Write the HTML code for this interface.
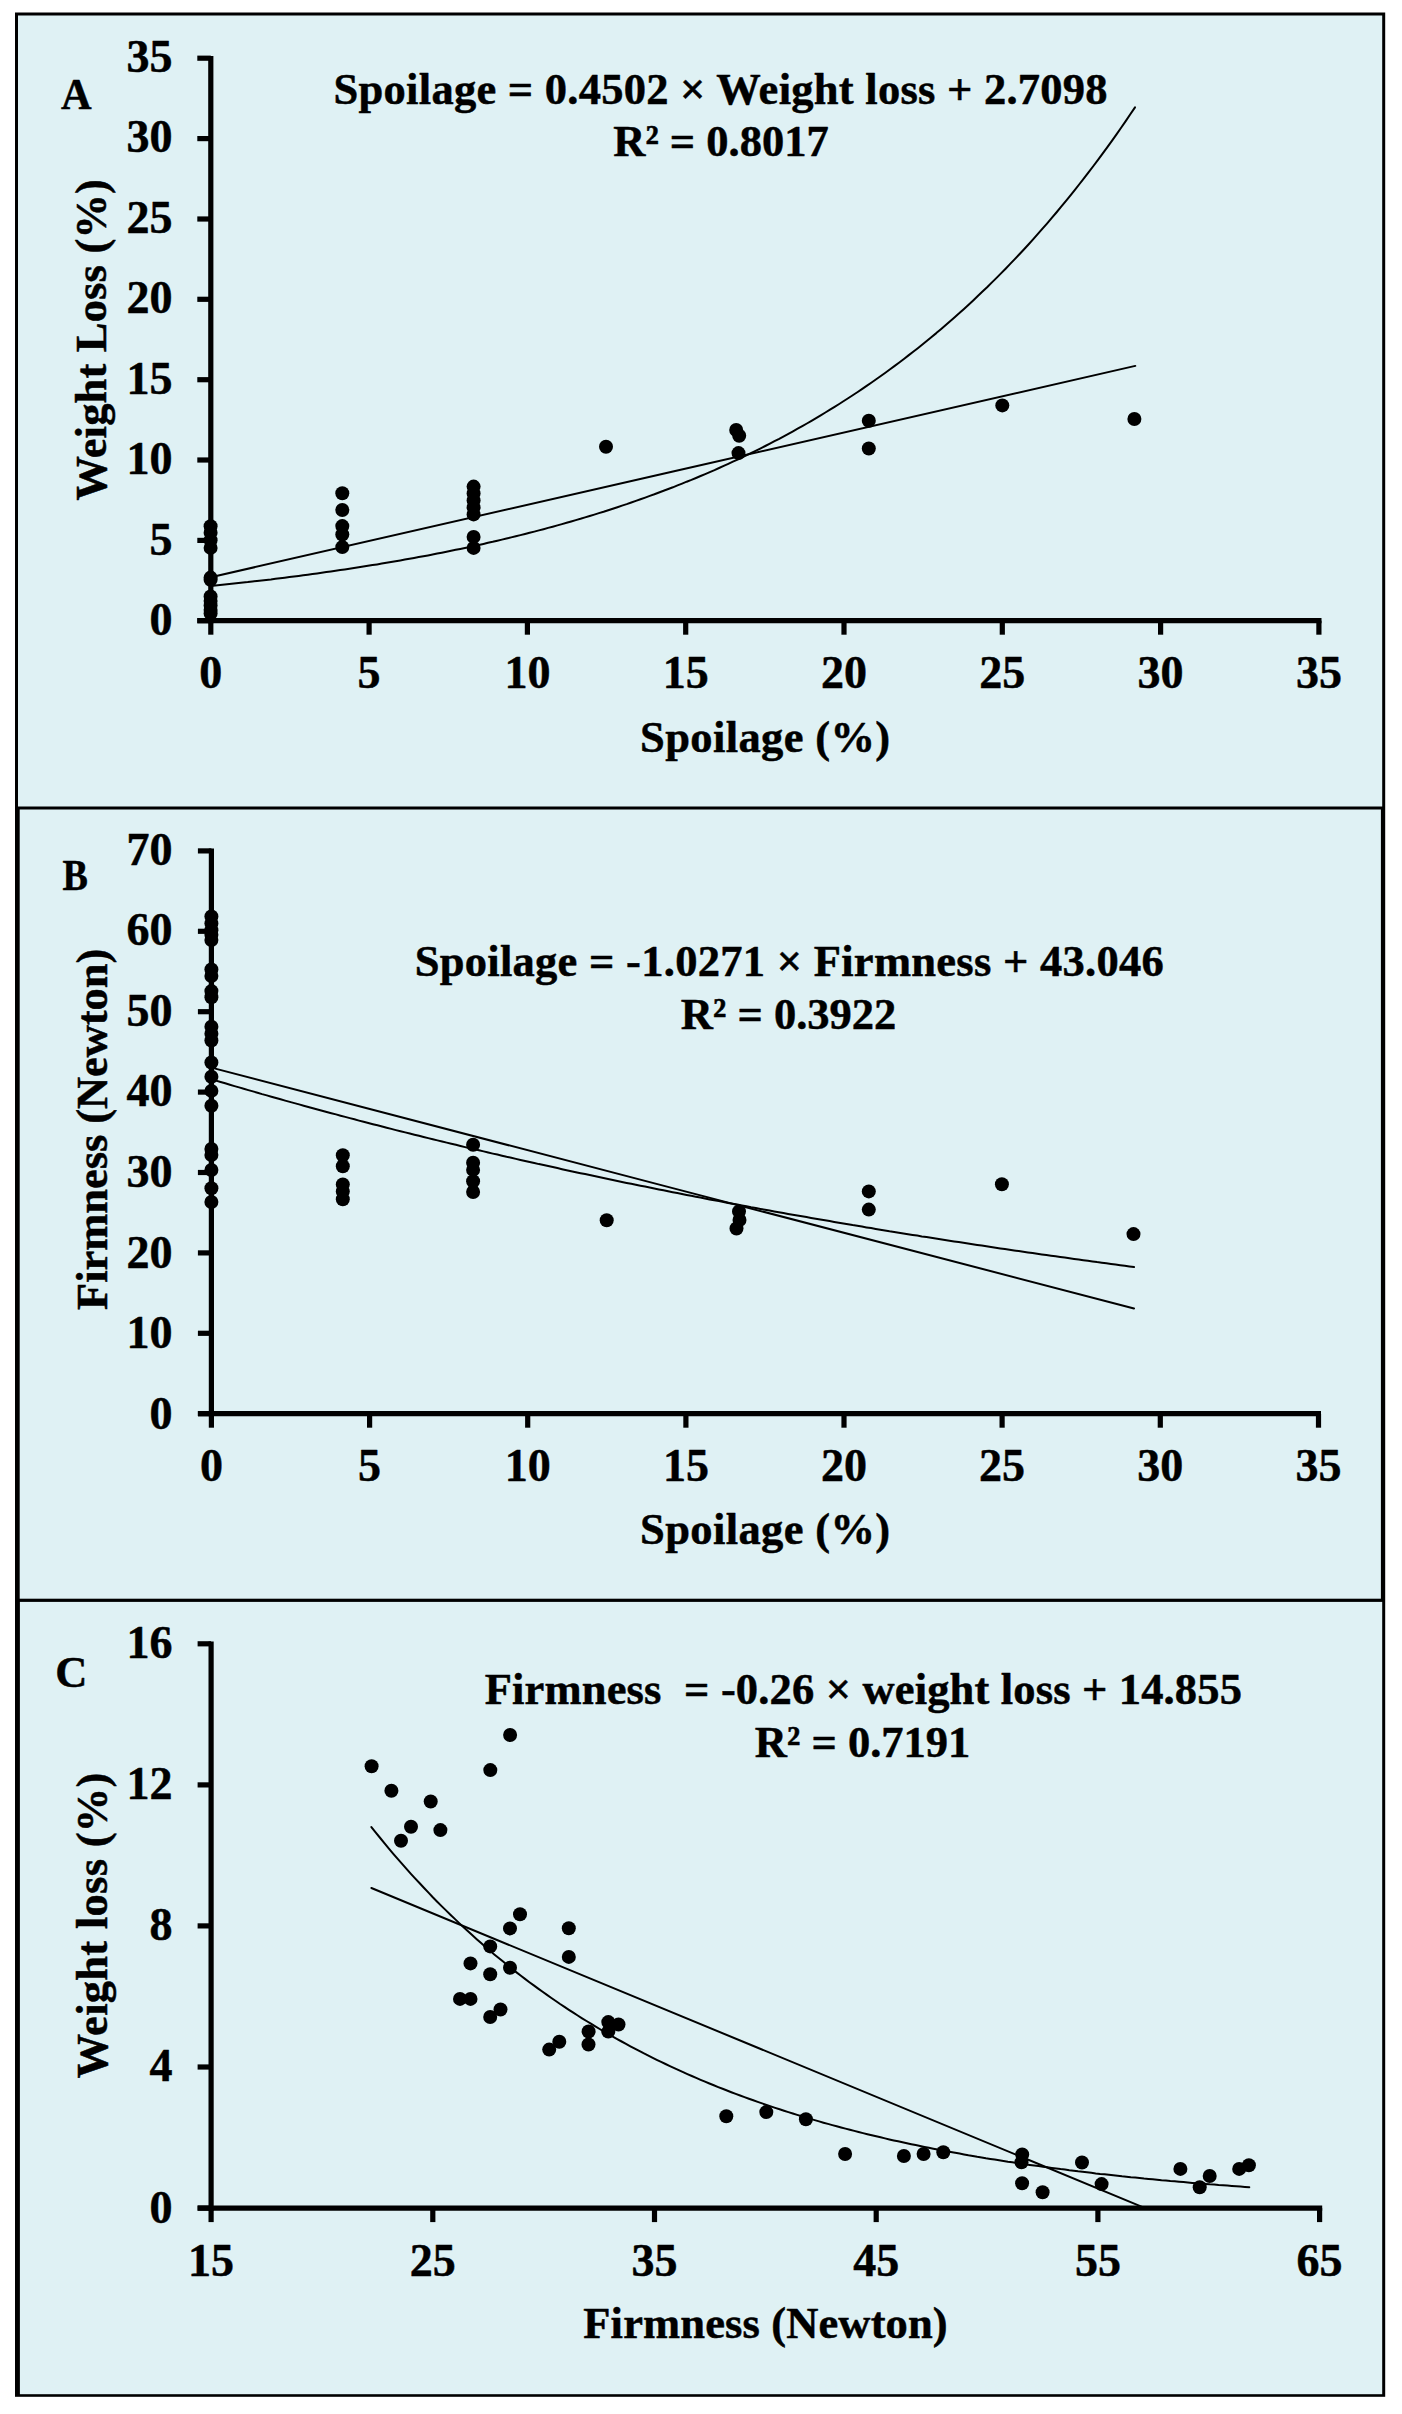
<!DOCTYPE html><html><head><meta charset="utf-8"><style>html,body{margin:0;padding:0;background:#fff;width:1402px;height:2414px;overflow:hidden}svg{display:block}text{font-family:"Liberation Serif",serif;font-weight:bold;fill:#000;stroke:#000;stroke-width:0.5px;stroke-linejoin:round}</style></head><body>
<svg width="1402" height="2414" viewBox="0 0 1402 2414">
<rect x="15" y="12.5" width="1370.2" height="2384.3" fill="#000"/>
<rect x="18" y="15.5" width="1364.2" height="791" fill="#dff1f4"/>
<rect x="19.7" y="809.5" width="1361.2" height="789.2" fill="#dff1f4"/>
<rect x="19.9" y="1601.9" width="1362.3" height="792.3" fill="#dff1f4"/>
<line x1="210.8" y1="55.9" x2="210.8" y2="623.3" stroke="#000" stroke-width="5.2"/>
<line x1="197.3" y1="620.7" x2="1321.5" y2="620.7" stroke="#000" stroke-width="5.2"/>
<line x1="197.3" y1="620.7" x2="210.8" y2="620.7" stroke="#000" stroke-width="5.2"/>
<line x1="197.3" y1="540.4" x2="210.8" y2="540.4" stroke="#000" stroke-width="5.2"/>
<line x1="197.3" y1="460" x2="210.8" y2="460" stroke="#000" stroke-width="5.2"/>
<line x1="197.3" y1="379.7" x2="210.8" y2="379.7" stroke="#000" stroke-width="5.2"/>
<line x1="197.3" y1="299.3" x2="210.8" y2="299.3" stroke="#000" stroke-width="5.2"/>
<line x1="197.3" y1="219" x2="210.8" y2="219" stroke="#000" stroke-width="5.2"/>
<line x1="197.3" y1="138.6" x2="210.8" y2="138.6" stroke="#000" stroke-width="5.2"/>
<line x1="197.3" y1="58.2" x2="210.8" y2="58.2" stroke="#000" stroke-width="5.2"/>
<line x1="210.8" y1="620.7" x2="210.8" y2="634.7" stroke="#000" stroke-width="5.2"/>
<line x1="369.1" y1="620.7" x2="369.1" y2="634.7" stroke="#000" stroke-width="5.2"/>
<line x1="527.4" y1="620.7" x2="527.4" y2="634.7" stroke="#000" stroke-width="5.2"/>
<line x1="685.7" y1="620.7" x2="685.7" y2="634.7" stroke="#000" stroke-width="5.2"/>
<line x1="844" y1="620.7" x2="844" y2="634.7" stroke="#000" stroke-width="5.2"/>
<line x1="1002.3" y1="620.7" x2="1002.3" y2="634.7" stroke="#000" stroke-width="5.2"/>
<line x1="1160.6" y1="620.7" x2="1160.6" y2="634.7" stroke="#000" stroke-width="5.2"/>
<line x1="1318.9" y1="620.7" x2="1318.9" y2="634.7" stroke="#000" stroke-width="5.2"/>
<text x="172.6" y="635.3" text-anchor="end" font-size="46" >0</text>
<text x="210.8" y="687.6" text-anchor="middle" font-size="46" >0</text>
<text x="172.6" y="554.8" text-anchor="end" font-size="46" >5</text>
<text x="369.1" y="687.6" text-anchor="middle" font-size="46" >5</text>
<text x="172.6" y="474.3" text-anchor="end" font-size="46" >10</text>
<text x="527.4" y="687.6" text-anchor="middle" font-size="46" >10</text>
<text x="172.6" y="393.9" text-anchor="end" font-size="46" >15</text>
<text x="685.7" y="687.6" text-anchor="middle" font-size="46" >15</text>
<text x="172.6" y="313.4" text-anchor="end" font-size="46" >20</text>
<text x="844" y="687.6" text-anchor="middle" font-size="46" >20</text>
<text x="172.6" y="232.9" text-anchor="end" font-size="46" >25</text>
<text x="1002.3" y="687.6" text-anchor="middle" font-size="46" >25</text>
<text x="172.6" y="152.4" text-anchor="end" font-size="46" >30</text>
<text x="1160.6" y="687.6" text-anchor="middle" font-size="46" >30</text>
<text x="172.6" y="72" text-anchor="end" font-size="46" >35</text>
<text x="1318.9" y="687.6" text-anchor="middle" font-size="46" >35</text>
<text x="61" y="109.2" text-anchor="start" font-size="44.5" textLength="30.6" lengthAdjust="spacingAndGlyphs" >A</text>
<text x="720.6" y="103.9" text-anchor="middle" font-size="44.5" textLength="774" lengthAdjust="spacing" >Spoilage = 0.4502 × Weight loss + 2.7098</text>
<text x="721" y="156.2" text-anchor="middle" font-size="44.5" >R² = 0.8017</text>
<text x="765.1" y="751.6" text-anchor="middle" font-size="44.5" textLength="250.2" lengthAdjust="spacing" >Spoilage (%)</text>
<text transform="translate(105.6,339.8) rotate(-90)" x="0" y="0" text-anchor="middle" font-size="44.5" textLength="321.5">Weight Loss (%)</text>
<polyline points="210.8,577.2 673.0,471.5 1135.3,365.9" fill="none" stroke="#000" stroke-width="2.0" stroke-linejoin="round" stroke-linecap="round"/>
<polyline points="210.8,586.0 215.4,585.5 220.0,585.1 224.7,584.6 229.3,584.1 233.9,583.6 238.5,583.1 243.1,582.6 247.8,582.1 252.4,581.5 257.0,581.0 261.6,580.5 266.2,579.9 270.9,579.4 275.5,578.8 280.1,578.2 284.7,577.7 289.4,577.1 294.0,576.5 298.6,575.9 303.2,575.3 307.8,574.7 312.5,574.0 317.1,573.4 321.7,572.8 326.3,572.1 330.9,571.5 335.6,570.8 340.2,570.1 344.8,569.4 349.4,568.7 354.0,568.0 358.7,567.3 363.3,566.6 367.9,565.8 372.5,565.1 377.1,564.4 381.8,563.6 386.4,562.8 391.0,562.0 395.6,561.2 400.3,560.4 404.9,559.6 409.5,558.8 414.1,557.9 418.7,557.1 423.4,556.2 428.0,555.4 432.6,554.5 437.2,553.6 441.8,552.7 446.5,551.7 451.1,550.8 455.7,549.8 460.3,548.9 464.9,547.9 469.6,546.9 474.2,545.9 478.8,544.9 483.4,543.9 488.0,542.8 492.7,541.8 497.3,540.7 501.9,539.6 506.5,538.5 511.2,537.4 515.8,536.3 520.4,535.1 525.0,534.0 529.6,532.8 534.3,531.6 538.9,530.4 543.5,529.2 548.1,527.9 552.7,526.7 557.4,525.4 562.0,524.1 566.6,522.8 571.2,521.5 575.8,520.1 580.5,518.8 585.1,517.4 589.7,516.0 594.3,514.6 598.9,513.1 603.6,511.7 608.2,510.2 612.8,508.7 617.4,507.2 622.0,505.6 626.7,504.1 631.3,502.5 635.9,500.9 640.5,499.3 645.2,497.6 649.8,495.9 654.4,494.3 659.0,492.5 663.6,490.8 668.3,489.0 672.9,487.3 677.5,485.4 682.1,483.6 686.7,481.7 691.4,479.9 696.0,478.0 700.6,476.0 705.2,474.1 709.8,472.1 714.5,470.1 719.1,468.0 723.7,465.9 728.3,463.8 732.9,461.7 737.6,459.6 742.2,457.4 746.8,455.2 751.4,452.9 756.1,450.6 760.7,448.3 765.3,446.0 769.9,443.6 774.5,441.2 779.2,438.8 783.8,436.3 788.4,433.8 793.0,431.3 797.6,428.7 802.3,426.1 806.9,423.5 811.5,420.8 816.1,418.1 820.7,415.3 825.4,412.5 830.0,409.7 834.6,406.9 839.2,404.0 843.8,401.0 848.5,398.0 853.1,395.0 857.7,392.0 862.3,388.9 867.0,385.7 871.6,382.5 876.2,379.3 880.8,376.0 885.4,372.7 890.1,369.3 894.7,365.9 899.3,362.5 903.9,359.0 908.5,355.4 913.2,351.8 917.8,348.2 922.4,344.5 927.0,340.7 931.6,336.9 936.3,333.1 940.9,329.2 945.5,325.2 950.1,321.2 954.7,317.2 959.4,313.1 964.0,308.9 968.6,304.7 973.2,300.4 977.8,296.0 982.5,291.6 987.1,287.2 991.7,282.6 996.3,278.1 1001.0,273.4 1005.6,268.7 1010.2,263.9 1014.8,259.1 1019.4,254.2 1024.1,249.2 1028.7,244.2 1033.3,239.1 1037.9,233.9 1042.5,228.6 1047.2,223.3 1051.8,217.9 1056.4,212.5 1061.0,206.9 1065.6,201.3 1070.3,195.6 1074.9,189.9 1079.5,184.0 1084.1,178.1 1088.7,172.1 1093.4,166.0 1098.0,159.9 1102.6,153.6 1107.2,147.3 1111.9,140.8 1116.5,134.3 1121.1,127.7 1125.7,121.1 1130.3,114.3 1135.0,107.4" fill="none" stroke="#000" stroke-width="2.0" stroke-linejoin="round" stroke-linecap="round"/>
<circle cx="210.6" cy="526.3" r="7.0"/>
<circle cx="210.6" cy="532.8" r="7.0"/>
<circle cx="210.6" cy="540.2" r="7.0"/>
<circle cx="210.6" cy="547.9" r="7.0"/>
<circle cx="210.6" cy="577.6" r="7.0"/>
<circle cx="210.6" cy="579.7" r="7.0"/>
<circle cx="210.6" cy="596.5" r="7.0"/>
<circle cx="210.6" cy="601" r="7.0"/>
<circle cx="210.6" cy="605.5" r="7.0"/>
<circle cx="210.6" cy="610" r="7.0"/>
<circle cx="210.6" cy="613.5" r="7.0"/>
<circle cx="342.3" cy="493.3" r="7.0"/>
<circle cx="342.3" cy="510" r="7.0"/>
<circle cx="342.3" cy="526.1" r="7.0"/>
<circle cx="342.3" cy="534.5" r="7.0"/>
<circle cx="342.3" cy="547.1" r="7.0"/>
<circle cx="473.6" cy="486.6" r="7.0"/>
<circle cx="473.6" cy="493.5" r="7.0"/>
<circle cx="473.6" cy="500.5" r="7.0"/>
<circle cx="473.6" cy="507.5" r="7.0"/>
<circle cx="473.6" cy="514.4" r="7.0"/>
<circle cx="473.6" cy="536.9" r="7.0"/>
<circle cx="473.6" cy="547.9" r="7.0"/>
<circle cx="606" cy="446.7" r="7.0"/>
<circle cx="736.2" cy="430" r="7.0"/>
<circle cx="739.2" cy="435.7" r="7.0"/>
<circle cx="738.5" cy="453.1" r="7.0"/>
<circle cx="868.8" cy="420.7" r="7.0"/>
<circle cx="868.8" cy="448.5" r="7.0"/>
<circle cx="1002.3" cy="405.4" r="7.0"/>
<circle cx="1134.4" cy="419" r="7.0"/>
<line x1="211.4" y1="848.5" x2="211.4" y2="1416.3" stroke="#000" stroke-width="5.2"/>
<line x1="197.9" y1="1413.7" x2="1321" y2="1413.7" stroke="#000" stroke-width="5.2"/>
<line x1="197.9" y1="1413.7" x2="211.4" y2="1413.7" stroke="#000" stroke-width="5.2"/>
<line x1="197.9" y1="1333.3" x2="211.4" y2="1333.3" stroke="#000" stroke-width="5.2"/>
<line x1="197.9" y1="1252.9" x2="211.4" y2="1252.9" stroke="#000" stroke-width="5.2"/>
<line x1="197.9" y1="1172.5" x2="211.4" y2="1172.5" stroke="#000" stroke-width="5.2"/>
<line x1="197.9" y1="1092.1" x2="211.4" y2="1092.1" stroke="#000" stroke-width="5.2"/>
<line x1="197.9" y1="1011.7" x2="211.4" y2="1011.7" stroke="#000" stroke-width="5.2"/>
<line x1="197.9" y1="931.3" x2="211.4" y2="931.3" stroke="#000" stroke-width="5.2"/>
<line x1="197.9" y1="850.9" x2="211.4" y2="850.9" stroke="#000" stroke-width="5.2"/>
<line x1="211.4" y1="1413.7" x2="211.4" y2="1427.7" stroke="#000" stroke-width="5.2"/>
<line x1="369.6" y1="1413.7" x2="369.6" y2="1427.7" stroke="#000" stroke-width="5.2"/>
<line x1="527.7" y1="1413.7" x2="527.7" y2="1427.7" stroke="#000" stroke-width="5.2"/>
<line x1="685.9" y1="1413.7" x2="685.9" y2="1427.7" stroke="#000" stroke-width="5.2"/>
<line x1="844" y1="1413.7" x2="844" y2="1427.7" stroke="#000" stroke-width="5.2"/>
<line x1="1002.1" y1="1413.7" x2="1002.1" y2="1427.7" stroke="#000" stroke-width="5.2"/>
<line x1="1160.3" y1="1413.7" x2="1160.3" y2="1427.7" stroke="#000" stroke-width="5.2"/>
<line x1="1318.5" y1="1413.7" x2="1318.5" y2="1427.7" stroke="#000" stroke-width="5.2"/>
<text x="172.6" y="1428.6" text-anchor="end" font-size="46" >0</text>
<text x="172.6" y="1348" text-anchor="end" font-size="46" >10</text>
<text x="172.6" y="1267.5" text-anchor="end" font-size="46" >20</text>
<text x="172.6" y="1186.9" text-anchor="end" font-size="46" >30</text>
<text x="172.6" y="1106.3" text-anchor="end" font-size="46" >40</text>
<text x="172.6" y="1025.7" text-anchor="end" font-size="46" >50</text>
<text x="172.6" y="945.2" text-anchor="end" font-size="46" >60</text>
<text x="172.6" y="864.6" text-anchor="end" font-size="46" >70</text>
<text x="211.4" y="1481.2" text-anchor="middle" font-size="46" >0</text>
<text x="369.6" y="1481.2" text-anchor="middle" font-size="46" >5</text>
<text x="527.7" y="1481.2" text-anchor="middle" font-size="46" >10</text>
<text x="685.9" y="1481.2" text-anchor="middle" font-size="46" >15</text>
<text x="844" y="1481.2" text-anchor="middle" font-size="46" >20</text>
<text x="1002.1" y="1481.2" text-anchor="middle" font-size="46" >25</text>
<text x="1160.3" y="1481.2" text-anchor="middle" font-size="46" >30</text>
<text x="1318.5" y="1481.2" text-anchor="middle" font-size="46" >35</text>
<text x="62.4" y="889.6" text-anchor="start" font-size="44.5" textLength="25.4" lengthAdjust="spacingAndGlyphs" >B</text>
<text x="789.2" y="976.3" text-anchor="middle" font-size="44.5" textLength="749.1" lengthAdjust="spacing" >Spoilage = -1.0271 × Firmness + 43.046</text>
<text x="788.6" y="1028.6" text-anchor="middle" font-size="44.5" >R² = 0.3922</text>
<text x="765.1" y="1543.6" text-anchor="middle" font-size="44.5" textLength="250.2" lengthAdjust="spacing" >Spoilage (%)</text>
<text transform="translate(107.2,1129.3) rotate(-90)" x="0" y="0" text-anchor="middle" font-size="44.5" textLength="361.2">Firmness (Newton)</text>
<polyline points="211.4,1067.6 672.7,1188.1 1134.0,1308.5" fill="none" stroke="#000" stroke-width="2.0" stroke-linejoin="round" stroke-linecap="round"/>
<polyline points="211.4,1079.2 216.0,1080.6 220.6,1082.0 225.2,1083.3 229.9,1084.7 234.5,1086.1 239.1,1087.4 243.7,1088.7 248.3,1090.1 252.9,1091.4 257.5,1092.7 262.1,1094.1 266.8,1095.4 271.4,1096.7 276.0,1098.0 280.6,1099.3 285.2,1100.6 289.8,1101.9 294.4,1103.1 299.1,1104.4 303.7,1105.7 308.3,1107.0 312.9,1108.2 317.5,1109.5 322.1,1110.7 326.7,1112.0 331.3,1113.2 336.0,1114.4 340.6,1115.7 345.2,1116.9 349.8,1118.1 354.4,1119.3 359.0,1120.6 363.6,1121.8 368.3,1123.0 372.9,1124.2 377.5,1125.3 382.1,1126.5 386.7,1127.7 391.3,1128.9 395.9,1130.1 400.5,1131.2 405.2,1132.4 409.8,1133.5 414.4,1134.7 419.0,1135.8 423.6,1137.0 428.2,1138.1 432.8,1139.3 437.4,1140.4 442.1,1141.5 446.7,1142.6 451.3,1143.7 455.9,1144.8 460.5,1146.0 465.1,1147.1 469.7,1148.2 474.4,1149.2 479.0,1150.3 483.6,1151.4 488.2,1152.5 492.8,1153.6 497.4,1154.6 502.0,1155.7 506.6,1156.8 511.3,1157.8 515.9,1158.9 520.5,1159.9 525.1,1161.0 529.7,1162.0 534.3,1163.0 538.9,1164.1 543.6,1165.1 548.2,1166.1 552.8,1167.1 557.4,1168.1 562.0,1169.2 566.6,1170.2 571.2,1171.2 575.8,1172.2 580.5,1173.2 585.1,1174.1 589.7,1175.1 594.3,1176.1 598.9,1177.1 603.5,1178.1 608.1,1179.0 612.8,1180.0 617.4,1181.0 622.0,1181.9 626.6,1182.9 631.2,1183.8 635.8,1184.8 640.4,1185.7 645.0,1186.6 649.7,1187.6 654.3,1188.5 658.9,1189.4 663.5,1190.3 668.1,1191.3 672.7,1192.2 677.3,1193.1 682.0,1194.0 686.6,1194.9 691.2,1195.8 695.8,1196.7 700.4,1197.6 705.0,1198.5 709.6,1199.4 714.2,1200.2 718.9,1201.1 723.5,1202.0 728.1,1202.9 732.7,1203.7 737.3,1204.6 741.9,1205.5 746.5,1206.3 751.1,1207.2 755.8,1208.0 760.4,1208.9 765.0,1209.7 769.6,1210.5 774.2,1211.4 778.8,1212.2 783.4,1213.0 788.1,1213.9 792.7,1214.7 797.3,1215.5 801.9,1216.3 806.5,1217.1 811.1,1217.9 815.7,1218.7 820.3,1219.5 825.0,1220.3 829.6,1221.1 834.2,1221.9 838.8,1222.7 843.4,1223.5 848.0,1224.3 852.6,1225.1 857.3,1225.8 861.9,1226.6 866.5,1227.4 871.1,1228.1 875.7,1228.9 880.3,1229.7 884.9,1230.4 889.5,1231.2 894.2,1231.9 898.8,1232.7 903.4,1233.4 908.0,1234.2 912.6,1234.9 917.2,1235.6 921.8,1236.4 926.5,1237.1 931.1,1237.8 935.7,1238.5 940.3,1239.3 944.9,1240.0 949.5,1240.7 954.1,1241.4 958.7,1242.1 963.4,1242.8 968.0,1243.5 972.6,1244.2 977.2,1244.9 981.8,1245.6 986.4,1246.3 991.0,1247.0 995.7,1247.7 1000.3,1248.4 1004.9,1249.0 1009.5,1249.7 1014.1,1250.4 1018.7,1251.1 1023.3,1251.7 1027.9,1252.4 1032.6,1253.1 1037.2,1253.7 1041.8,1254.4 1046.4,1255.0 1051.0,1255.7 1055.6,1256.3 1060.2,1257.0 1064.8,1257.6 1069.5,1258.3 1074.1,1258.9 1078.7,1259.6 1083.3,1260.2 1087.9,1260.8 1092.5,1261.4 1097.1,1262.1 1101.8,1262.7 1106.4,1263.3 1111.0,1263.9 1115.6,1264.5 1120.2,1265.2 1124.8,1265.8 1129.4,1266.4 1134.0,1267.0" fill="none" stroke="#000" stroke-width="2.0" stroke-linejoin="round" stroke-linecap="round"/>
<circle cx="211.4" cy="916.5" r="7.0"/>
<circle cx="211.4" cy="923.4" r="7.0"/>
<circle cx="211.4" cy="930.2" r="7.0"/>
<circle cx="211.4" cy="934.7" r="7.0"/>
<circle cx="211.4" cy="940" r="7.0"/>
<circle cx="211.4" cy="969.5" r="7.0"/>
<circle cx="211.4" cy="976" r="7.0"/>
<circle cx="211.4" cy="991.1" r="7.0"/>
<circle cx="211.4" cy="997.3" r="7.0"/>
<circle cx="211.4" cy="1026.7" r="7.0"/>
<circle cx="211.4" cy="1033.7" r="7.0"/>
<circle cx="211.4" cy="1040.5" r="7.0"/>
<circle cx="211.4" cy="1062.5" r="7.0"/>
<circle cx="211.4" cy="1076.8" r="7.0"/>
<circle cx="211.4" cy="1090.9" r="7.0"/>
<circle cx="211.4" cy="1105.8" r="7.0"/>
<circle cx="211.4" cy="1149" r="7.0"/>
<circle cx="211.4" cy="1155" r="7.0"/>
<circle cx="211.4" cy="1170" r="7.0"/>
<circle cx="211.4" cy="1188.3" r="7.0"/>
<circle cx="211.4" cy="1202" r="7.0"/>
<circle cx="342.8" cy="1155.2" r="7.0"/>
<circle cx="342.8" cy="1166.2" r="7.0"/>
<circle cx="342.8" cy="1184.4" r="7.0"/>
<circle cx="342.8" cy="1191.5" r="7.0"/>
<circle cx="342.8" cy="1199.3" r="7.0"/>
<circle cx="473.1" cy="1144.8" r="7.0"/>
<circle cx="473.1" cy="1162.8" r="7.0"/>
<circle cx="473.1" cy="1169.9" r="7.0"/>
<circle cx="473.1" cy="1181.3" r="7.0"/>
<circle cx="473.1" cy="1192" r="7.0"/>
<circle cx="606.7" cy="1220.3" r="7.0"/>
<circle cx="739" cy="1211.5" r="7.0"/>
<circle cx="739.5" cy="1220" r="7.0"/>
<circle cx="736.5" cy="1228.5" r="7.0"/>
<circle cx="868.8" cy="1191.4" r="7.0"/>
<circle cx="868.8" cy="1209.6" r="7.0"/>
<circle cx="1001.9" cy="1184.2" r="7.0"/>
<circle cx="1133.5" cy="1234.1" r="7.0"/>
<line x1="211.1" y1="1641.4" x2="211.1" y2="2210.7" stroke="#000" stroke-width="5.2"/>
<line x1="197.6" y1="2208.1" x2="1322.2" y2="2208.1" stroke="#000" stroke-width="5.2"/>
<line x1="197.6" y1="2208.1" x2="211.1" y2="2208.1" stroke="#000" stroke-width="5.2"/>
<line x1="197.6" y1="2067" x2="211.1" y2="2067" stroke="#000" stroke-width="5.2"/>
<line x1="197.6" y1="1925.9" x2="211.1" y2="1925.9" stroke="#000" stroke-width="5.2"/>
<line x1="197.6" y1="1784.9" x2="211.1" y2="1784.9" stroke="#000" stroke-width="5.2"/>
<line x1="197.6" y1="1643.8" x2="211.1" y2="1643.8" stroke="#000" stroke-width="5.2"/>
<line x1="211.1" y1="2208.1" x2="211.1" y2="2222.1" stroke="#000" stroke-width="5.2"/>
<line x1="432.8" y1="2208.1" x2="432.8" y2="2222.1" stroke="#000" stroke-width="5.2"/>
<line x1="654.5" y1="2208.1" x2="654.5" y2="2222.1" stroke="#000" stroke-width="5.2"/>
<line x1="876.2" y1="2208.1" x2="876.2" y2="2222.1" stroke="#000" stroke-width="5.2"/>
<line x1="1097.9" y1="2208.1" x2="1097.9" y2="2222.1" stroke="#000" stroke-width="5.2"/>
<line x1="1319.6" y1="2208.1" x2="1319.6" y2="2222.1" stroke="#000" stroke-width="5.2"/>
<text x="172.6" y="2222.6" text-anchor="end" font-size="46" >0</text>
<text x="172.6" y="2081.3" text-anchor="end" font-size="46" >4</text>
<text x="172.6" y="1940" text-anchor="end" font-size="46" >8</text>
<text x="172.6" y="1798.8" text-anchor="end" font-size="46" >12</text>
<text x="172.6" y="1657.5" text-anchor="end" font-size="46" >16</text>
<text x="211.1" y="2275.6" text-anchor="middle" font-size="46" >15</text>
<text x="432.8" y="2275.6" text-anchor="middle" font-size="46" >25</text>
<text x="654.5" y="2275.6" text-anchor="middle" font-size="46" >35</text>
<text x="876.2" y="2275.6" text-anchor="middle" font-size="46" >45</text>
<text x="1097.9" y="2275.6" text-anchor="middle" font-size="46" >55</text>
<text x="1319.6" y="2275.6" text-anchor="middle" font-size="46" >65</text>
<text x="55.2" y="1686.6" text-anchor="start" font-size="44.5" >C</text>
<text x="863.3" y="1704.3" text-anchor="middle" font-size="44.5" textLength="757.2" xml:space="preserve">Firmness  = -0.26 × weight loss + 14.855</text>
<text x="862.6" y="1757" text-anchor="middle" font-size="44.5" >R² = 0.7191</text>
<text x="765.5" y="2337.8" text-anchor="middle" font-size="44.5" textLength="364.4" lengthAdjust="spacing" >Firmness (Newton)</text>
<text transform="translate(107.2,1925.4) rotate(-90)" x="0" y="0" text-anchor="middle" font-size="44.5" textLength="305.7">Weight loss (%)</text>
<polyline points="371.4,1888.0 758.3,2048.0 1145.1,2208.1" fill="none" stroke="#000" stroke-width="2.0" stroke-linejoin="round" stroke-linecap="round"/>
<polyline points="371.4,1827.1 375.8,1832.6 380.2,1838.0 384.6,1843.4 388.9,1848.6 393.3,1853.8 397.7,1858.9 402.1,1863.9 406.5,1868.9 410.9,1873.8 415.3,1878.6 419.7,1883.3 424.1,1888.0 428.5,1892.6 432.8,1897.2 437.2,1901.7 441.6,1906.1 446.0,1910.4 450.4,1914.7 454.8,1918.9 459.2,1923.1 463.6,1927.2 468.0,1931.3 472.4,1935.3 476.7,1939.2 481.1,1943.1 485.5,1946.9 489.9,1950.6 494.3,1954.4 498.7,1958.0 503.1,1961.6 507.5,1965.2 511.9,1968.7 516.2,1972.1 520.6,1975.5 525.0,1978.9 529.4,1982.2 533.8,1985.4 538.2,1988.6 542.6,1991.8 547.0,1994.9 551.4,1998.0 555.8,2001.0 560.1,2004.0 564.5,2006.9 568.9,2009.8 573.3,2012.7 577.7,2015.5 582.1,2018.3 586.5,2021.0 590.9,2023.7 595.3,2026.4 599.7,2029.0 604.0,2031.6 608.4,2034.1 612.8,2036.6 617.2,2039.1 621.6,2041.5 626.0,2043.9 630.4,2046.3 634.8,2048.6 639.2,2050.9 643.5,2053.2 647.9,2055.4 652.3,2057.6 656.7,2059.8 661.1,2061.9 665.5,2064.0 669.9,2066.1 674.3,2068.1 678.7,2070.2 683.1,2072.2 687.4,2074.1 691.8,2076.0 696.2,2077.9 700.6,2079.8 705.0,2081.7 709.4,2083.5 713.8,2085.3 718.2,2087.1 722.6,2088.8 727.0,2090.5 731.3,2092.2 735.7,2093.9 740.1,2095.5 744.5,2097.1 748.9,2098.7 753.3,2100.3 757.7,2101.9 762.1,2103.4 766.5,2104.9 770.8,2106.4 775.2,2107.9 779.6,2109.3 784.0,2110.7 788.4,2112.1 792.8,2113.5 797.2,2114.9 801.6,2116.2 806.0,2117.6 810.4,2118.9 814.7,2120.1 819.1,2121.4 823.5,2122.7 827.9,2123.9 832.3,2125.1 836.7,2126.3 841.1,2127.5 845.5,2128.6 849.9,2129.8 854.3,2130.9 858.6,2132.0 863.0,2133.1 867.4,2134.2 871.8,2135.3 876.2,2136.3 880.6,2137.3 885.0,2138.4 889.4,2139.4 893.8,2140.4 898.1,2141.3 902.5,2142.3 906.9,2143.2 911.3,2144.2 915.7,2145.1 920.1,2146.0 924.5,2146.9 928.9,2147.8 933.3,2148.7 937.7,2149.5 942.0,2150.4 946.4,2151.2 950.8,2152.0 955.2,2152.8 959.6,2153.6 964.0,2154.4 968.4,2155.2 972.8,2155.9 977.2,2156.7 981.6,2157.4 985.9,2158.2 990.3,2158.9 994.7,2159.6 999.1,2160.3 1003.5,2161.0 1007.9,2161.7 1012.3,2162.3 1016.7,2163.0 1021.1,2163.6 1025.4,2164.3 1029.8,2164.9 1034.2,2165.5 1038.6,2166.1 1043.0,2166.7 1047.4,2167.3 1051.8,2167.9 1056.2,2168.5 1060.6,2169.1 1065.0,2169.6 1069.3,2170.2 1073.7,2170.7 1078.1,2171.3 1082.5,2171.8 1086.9,2172.3 1091.3,2172.8 1095.7,2173.4 1100.1,2173.9 1104.5,2174.3 1108.9,2174.8 1113.2,2175.3 1117.6,2175.8 1122.0,2176.3 1126.4,2176.7 1130.8,2177.2 1135.2,2177.6 1139.6,2178.0 1144.0,2178.5 1148.4,2178.9 1152.7,2179.3 1157.1,2179.7 1161.5,2180.2 1165.9,2180.6 1170.3,2181.0 1174.7,2181.3 1179.1,2181.7 1183.5,2182.1 1187.9,2182.5 1192.3,2182.9 1196.6,2183.2 1201.0,2183.6 1205.4,2183.9 1209.8,2184.3 1214.2,2184.6 1218.6,2185.0 1223.0,2185.3 1227.4,2185.6 1231.8,2185.9 1236.2,2186.3 1240.5,2186.6 1244.9,2186.9 1249.3,2187.2" fill="none" stroke="#000" stroke-width="2.0" stroke-linejoin="round" stroke-linecap="round"/>
<circle cx="371.6" cy="1766.3" r="7.0"/>
<circle cx="391.4" cy="1790.8" r="7.0"/>
<circle cx="430.7" cy="1801.5" r="7.0"/>
<circle cx="411" cy="1826.8" r="7.0"/>
<circle cx="440.4" cy="1830.1" r="7.0"/>
<circle cx="401" cy="1840.8" r="7.0"/>
<circle cx="490.3" cy="1770.1" r="7.0"/>
<circle cx="510.1" cy="1735" r="7.0"/>
<circle cx="520" cy="1914.3" r="7.0"/>
<circle cx="510" cy="1928.4" r="7.0"/>
<circle cx="568.8" cy="1928.2" r="7.0"/>
<circle cx="490.2" cy="1946.4" r="7.0"/>
<circle cx="568.8" cy="1956.9" r="7.0"/>
<circle cx="470.5" cy="1963.4" r="7.0"/>
<circle cx="510" cy="1967.7" r="7.0"/>
<circle cx="490.2" cy="1974.2" r="7.0"/>
<circle cx="460" cy="1998.9" r="7.0"/>
<circle cx="470.5" cy="1998.9" r="7.0"/>
<circle cx="500.5" cy="2009.5" r="7.0"/>
<circle cx="490.2" cy="2017" r="7.0"/>
<circle cx="608.3" cy="2022.1" r="7.0"/>
<circle cx="618.5" cy="2024.5" r="7.0"/>
<circle cx="588.6" cy="2031.5" r="7.0"/>
<circle cx="608.3" cy="2031.6" r="7.0"/>
<circle cx="588.5" cy="2044.5" r="7.0"/>
<circle cx="559.3" cy="2041.7" r="7.0"/>
<circle cx="549.2" cy="2049.6" r="7.0"/>
<circle cx="726.3" cy="2116.2" r="7.0"/>
<circle cx="766.3" cy="2112.1" r="7.0"/>
<circle cx="805.9" cy="2119.2" r="7.0"/>
<circle cx="845.1" cy="2154" r="7.0"/>
<circle cx="903.9" cy="2156" r="7.0"/>
<circle cx="923.6" cy="2154" r="7.0"/>
<circle cx="943.3" cy="2152.3" r="7.0"/>
<circle cx="1022.2" cy="2154.5" r="7.0"/>
<circle cx="1021.5" cy="2162.3" r="7.0"/>
<circle cx="1022.1" cy="2183.2" r="7.0"/>
<circle cx="1042.6" cy="2192.2" r="7.0"/>
<circle cx="1082" cy="2162.5" r="7.0"/>
<circle cx="1101.6" cy="2184.1" r="7.0"/>
<circle cx="1180.4" cy="2168.9" r="7.0"/>
<circle cx="1209.7" cy="2176" r="7.0"/>
<circle cx="1199.7" cy="2187.3" r="7.0"/>
<circle cx="1239.2" cy="2168.9" r="7.0"/>
<circle cx="1248.9" cy="2165.3" r="7.0"/>
</svg></body></html>
